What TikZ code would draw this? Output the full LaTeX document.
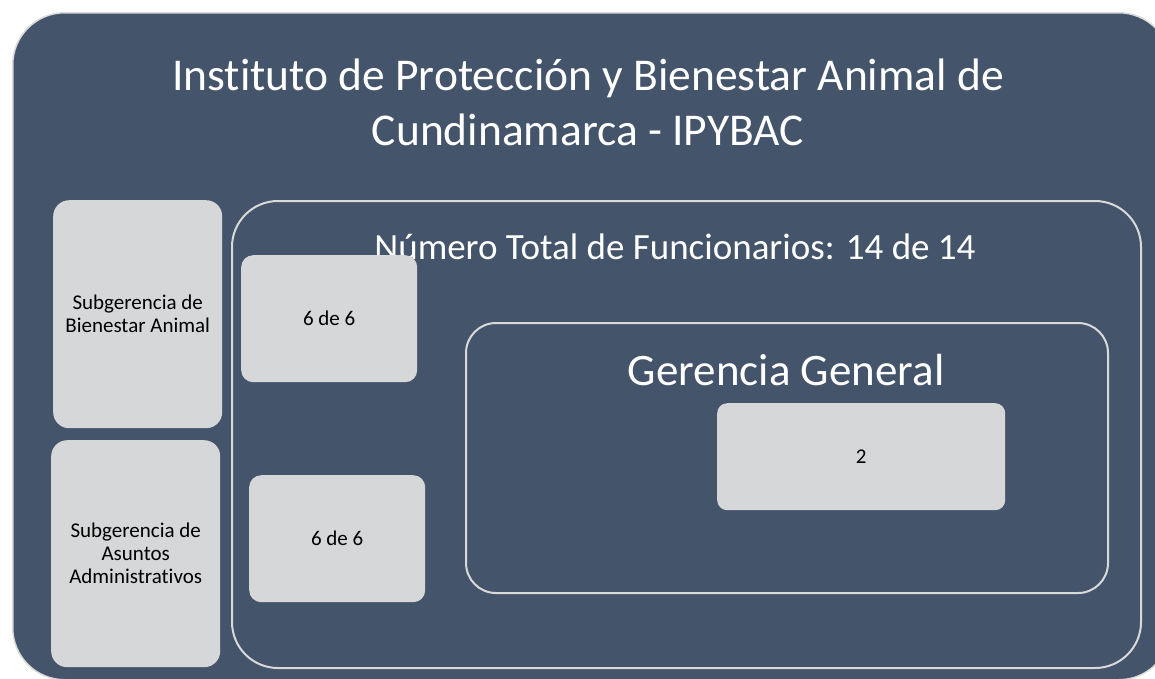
\documentclass[tikz,border=0pt]{standalone}
\usepackage{fontspec}
\setmainfont[Ligatures=NoCommon]{Carlito}
\definecolor{bgblue}{HTML}{44546A}
\definecolor{boxgray}{HTML}{D6D7D9}
\definecolor{rimgray}{HTML}{D9D9D9}
\tikzset{
  graybox/.style={fill=boxgray, draw=none, rounded corners=16pt, anchor=north west, inner sep=0pt, align=center, font=\fontsize{21}{23}\selectfont, text=black},
  frame/.style={draw=rimgray, line width=2pt, fill=none, anchor=north west, inner sep=0pt},
  wtext/.style={text=white, inner sep=0pt}
}
\begin{document}
\begin{tikzpicture}[x=1pt,y=-1pt]
\useasboundingbox (0,0) rectangle (1155,678);
\clip (0,0) rectangle (1155,678);
% outer shape
\node[draw=rimgray, line width=1.5pt, fill=bgblue, rounded corners=52pt, minimum width=1158pt, minimum height=667pt, anchor=north west, inner sep=0pt] (outer) at (12,12) {};
\node[wtext, align=center, font=\fontsize{45.5}{55}\selectfont] (title) at (588,102) {Instituto de Protección y Bienestar Animal de\\Cundinamarca - IPYBAC};
% total frame
\node[frame, rounded corners=46pt, minimum width=909pt, minimum height=467pt] (total) at (231,200) {};
\node[wtext, font=\fontsize{37}{42}\selectfont] (totaltxt) at (675,247) {Número Total de Funcionarios: 14 de 14};
% gerencia frame
\node[frame, rounded corners=30pt, minimum width=642pt, minimum height=270pt] (ger) at (465,322) {};
\node[wtext, font=\fontsize{45}{50}\selectfont] (gertxt) at (786,370) {Gerencia General};
% gray boxes
\node[graybox, minimum width=169pt, minimum height=228pt] (sba) at (53,200) {Subgerencia de\\Bienestar Animal};
\node[graybox, minimum width=169pt, minimum height=227pt] (saa) at (51,440) {Subgerencia de\\Asuntos\\Administrativos};
\node[graybox, rounded corners=12pt, minimum width=176pt, minimum height=127pt] (n1) at (241,255) {6 de 6};
\node[graybox, rounded corners=12pt, minimum width=176pt, minimum height=127pt] (n2) at (249,475) {6 de 6};
\node[graybox, rounded corners=10pt, minimum width=288pt, minimum height=107pt] (n3) at (717,403) {2};
\end{tikzpicture}
\end{document}
